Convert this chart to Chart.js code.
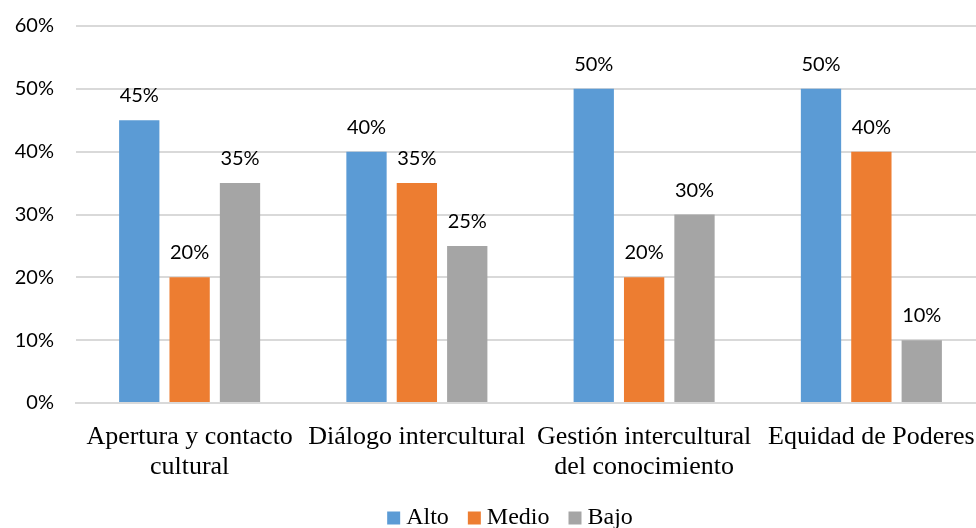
<!DOCTYPE html>
<html>
<head>
<meta charset="utf-8">
<script src="https://cdn.jsdelivr.net/npm/chart.js@4.4.0/dist/chart.umd.min.js"></script>
<style>
  html, body { margin: 0; padding: 0; background: #fff; overflow: hidden; }
  #wrap { width: 1026px; height: 528px; }
</style>
</head>
<body>
<div id="wrap"><canvas id="chart" width="1026" height="528"></canvas></div>
<script>
const categories = [
    ['Apertura y contacto', 'cultural'],
    'Diálogo intercultural',
    ['Gestión intercultural', 'del conocimiento'],
    'Equidad de Poderes'
];
const seriesNames = ['Alto', 'Medio', 'Bajo'];
const alto = [45, 40, 50, 50];
const medio = [20, 35, 20, 40];
const bajo = [35, 25, 30, 10];
const yTicks = [0, 10, 20, 30, 40, 50, 60];

const colors = ['#5B9BD5', '#ED7D31', '#A5A5A5'];
const sansFont = 'Lato, "Open Sans", sans-serif';
const serifFont = '"Liberation Serif", "DejaVu Serif", serif';

// draws the value labels above each bar
const valueLabels = {
    id: 'valueLabels',
    afterDatasetsDraw(chart) {
        const { ctx } = chart;
        ctx.save();
        ctx.font = '20px ' + sansFont;
        ctx.fillStyle = '#000';
        ctx.textAlign = 'center';
        ctx.textBaseline = 'alphabetic';
        chart.data.datasets.forEach((ds, i) => {
            chart.getDatasetMeta(i).data.forEach((bar, j) => {
                ctx.fillText(ds.data[j] + '%', bar.x, bar.y - 18);
            });
        });
        ctx.restore();
    }
};

new Chart(document.getElementById('chart'), {
    type: 'bar',
    data: {
        labels: categories,
        datasets: [
            { label: seriesNames[0], data: alto, backgroundColor: colors[0] },
            { label: seriesNames[1], data: medio, backgroundColor: colors[1] },
            { label: seriesNames[2], data: bajo, backgroundColor: colors[2] }
        ]
    },
    options: {
        responsive: false,
        animation: false,
        devicePixelRatio: 1,
        categoryPercentage: 0.665,
        barPercentage: 0.8,
        layout: { padding: { top: 26, right: 0, left: 0, bottom: -12 } },
        plugins: {
            legend: {
                position: 'bottom',
                labels: {
                    color: '#000',
                    font: { family: serifFont, size: 24 },
                    usePointStyle: true,
                    pointStyle: 'rect',
                    boxWidth: 1,
                    boxHeight: 13,
                    padding: 25
                }
            },
            tooltip: { enabled: false }
        },
        scales: {
            x: {
                afterFit(scale) { scale.height = 78; },
                grid: { display: false },
                border: { color: '#d9d9d9', width: 2 },
                ticks: {
                    color: '#000',
                    font: { family: serifFont, size: 26, lineHeight: 1.15 },
                    maxRotation: 0,
                    autoSkip: false,
                    padding: 11
                }
            },
            y: {
                min: 0,
                max: 60,
                afterFit(scale) {
                    scale.width = 76;
                    scale.paddingTop = 0;
                    scale.paddingBottom = 0;
                },
                afterBuildTicks(scale) {
                    scale.ticks = yTicks.map(v => ({ value: v }));
                },
                grid: { color: '#d9d9d9', lineWidth: 2, drawTicks: false },
                border: { display: false },
                ticks: {
                    color: '#000',
                    font: { family: sansFont, size: 20 },
                    padding: 22,
                    callback: v => v + '%'
                }
            },
            // empty spacer on the right, the plot runs past the picture edge
            spacer: {
                position: 'right',
                afterFit(scale) {
                    scale.width = 41;
                    scale.paddingTop = 0;
                    scale.paddingBottom = 0;
                },
                grid: { display: false },
                border: { display: false },
                ticks: { display: false }
            }
        }
    },
    plugins: [valueLabels]
});
</script>
</body>
</html>
